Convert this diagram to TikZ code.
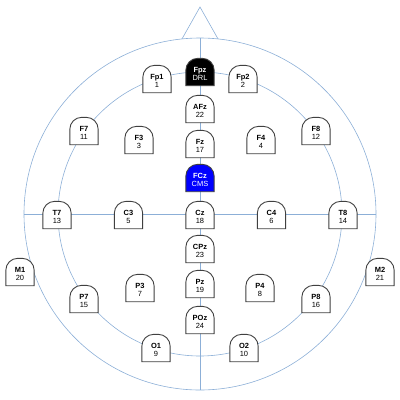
\documentclass[tikz,border=0pt]{standalone}
\usepackage{fontspec}
\setsansfont{Liberation Sans}
\usetikzlibrary{backgrounds}
\definecolor{headblue}{RGB}{140,175,215}

\begin{document}
\begin{tikzpicture}[
  x=1bp, y=-1bp,
  font=\sffamily\fontsize{7.5}{8.5}\selectfont,
  elec/.style={
    minimum width=28bp,
    minimum height=27bp,
    inner sep=0pt,
    align=center
  },
  ref/.style={elec, text=white},     % DRL and CMS electrodes
  head/.style={draw=headblue, line width=0.6bp},
  shell/.style={draw=black!75, line width=0.9bp}
]
\useasboundingbox (0,0) rectangle (400,400);

% --- Midline electrodes ---
\node[ref]  (Fpz) at (200,74)  {\textbf{Fpz}\\DRL};
\node[elec] (AFz) at (200,111) {\textbf{AFz}\\22};
\node[elec] (Fz)  at (200,146) {\textbf{Fz}\\17};
\node[ref]  (FCz) at (200,180) {\textbf{FCz}\\CMS};
\node[elec] (Cz)  at (200,217) {\textbf{Cz}\\18};
\node[elec] (CPz) at (200,251) {\textbf{CPz}\\23};
\node[elec] (Pz)  at (200,286) {\textbf{Pz}\\19};
\node[elec] (POz) at (200,322) {\textbf{POz}\\24};

% --- Left hemisphere ---
\node[elec] (Fp1) at (157,81)    {\textbf{Fp1}\\1};
\node[elec] (F7)  at (84,133)    {\textbf{F7}\\11};
\node[elec] (F3)  at (139,142)   {\textbf{F3}\\3};
\node[elec] (T7)  at (57,217)    {\textbf{T7}\\13};
\node[elec] (C3)  at (128.5,217) {\textbf{C3}\\5};
\node[elec] (M1)  at (20,274)    {\textbf{M1}\\20};
\node[elec] (P7)  at (84,301)    {\textbf{P7}\\15};
\node[elec] (P3)  at (140,290)   {\textbf{P3}\\7};
\node[elec] (O1)  at (156,350)   {\textbf{O1}\\9};

% --- Right hemisphere ---
\node[elec] (Fp2) at (243,81)    {\textbf{Fp2}\\2};
\node[elec] (F8)  at (316,133)   {\textbf{F8}\\12};
\node[elec] (F4)  at (261,142)   {\textbf{F4}\\4};
\node[elec] (T8)  at (343,217)   {\textbf{T8}\\14};
\node[elec] (C4)  at (271.5,217) {\textbf{C4}\\6};
\node[elec] (M2)  at (380,274)   {\textbf{M2}\\21};
\node[elec] (P8)  at (316,301)   {\textbf{P8}\\16};
\node[elec] (P4)  at (260,290)   {\textbf{P4}\\8};
\node[elec] (O2)  at (244,350)   {\textbf{O2}\\10};

\begin{scope}[on background layer]
  % --- Head outline: skull, nose, 10-20 circle, midlines ---
  \draw[head] (200,214) circle[radius=176];
  \draw[head] (200,214) circle[radius=142];
  \draw[head] (182,38.9) -- (200,7) -- (218,38.9);
  \draw[head] (200,38) -- (200,390);
  \draw[head] (24,214) -- (376,214);

  % --- Electrode housings (rounded top) ---
  \foreach \n/\c in {Fpz/black, FCz/blue, AFz/white, Fz/white, Cz/white,
                     CPz/white, Pz/white, POz/white, Fp1/white, Fp2/white,
                     F7/white, F3/white, F4/white, F8/white, T7/white,
                     C3/white, C4/white, T8/white, M1/white, M2/white,
                     P7/white, P3/white, P4/white, P8/white, O1/white, O2/white}
    \filldraw[shell, fill=\c] ([yshift=2bp]\n.south west)
      -- ([yshift=-10bp]\n.north west)
      arc[start angle=180, end angle=90, radius=12bp]
      -- ([xshift=-12bp, yshift=2bp]\n.north east)
      arc[start angle=90, end angle=0, radius=12bp]
      -- ([yshift=2bp]\n.south east) -- cycle;
\end{scope}

\end{tikzpicture}
\end{document}
